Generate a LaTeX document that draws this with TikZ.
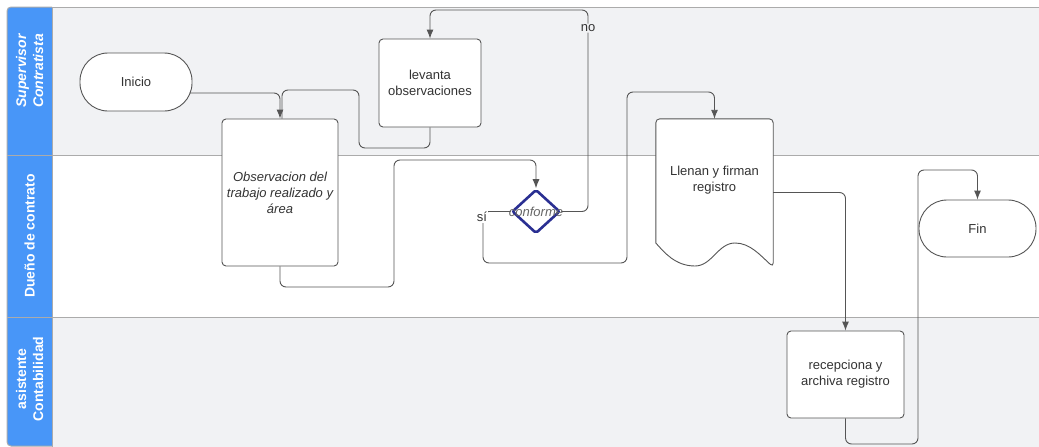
\documentclass[tikz,border=0pt]{standalone}
\usepackage{fontspec}
\setmainfont{Liberation Sans}
\usetikzlibrary{arrows.meta,shapes.geometric}
\definecolor{hdrblue}{HTML}{4896F8}
\definecolor{lanegray}{HTML}{F1F2F4}
\definecolor{framegray}{HTML}{ABABAB}
\definecolor{nodeborder}{HTML}{555555}
\definecolor{txt}{HTML}{333333}
\definecolor{navy}{HTML}{2A2F92}
\tikzset{
  box/.style={draw=nodeborder, line width=0.9pt, fill=white, rounded corners=4pt,
    align=center, text=txt, font=\fontsize{13}{16}\selectfont, inner sep=2pt},
  term/.style={draw=nodeborder, line width=0.9pt, fill=white, rounded corners=28pt,
    align=center, text=txt, font=\fontsize{13}{16}\selectfont},
  conn/.style={draw=nodeborder, line width=0.9pt, rounded corners=6pt},
  arr/.style={conn, -{Latex[length=9pt,width=7pt]}},
  lbl/.style={text=txt, font=\fontsize{13}{16}\selectfont, inner sep=1pt},
  hdrtext/.style={text=white, font=\fontsize{14}{17}\selectfont\bfseries, align=center, rotate=90}
}
\begin{document}
\begin{tikzpicture}[x=1pt,y=-1pt]
\useasboundingbox (0,0) rectangle (1039,447);
% lanes
\fill[lanegray] (52,7) rectangle (1039,155);
\fill[white] (52,155) rectangle (1039,317);
\fill[lanegray] (52,317) rectangle (1039,447);
\draw[framegray, line width=1pt] (52,7) -- (1039,7);
\draw[framegray, line width=1pt] (7,155) -- (1039,155);
\draw[framegray, line width=1pt] (7,317) -- (1039,317);
% header column
\draw[framegray, line width=1pt, fill=hdrblue, rounded corners=4pt] (52,7) -- (7,7) -- (7,446) -- (52,446);
\draw[framegray, line width=1pt] (52,7) -- (52,447);
\draw[framegray, line width=1pt] (7,155) -- (52,155);
\draw[framegray, line width=1pt] (7,317) -- (52,317);
\node[hdrtext, font=\fontsize{14}{17}\selectfont\bfseries\itshape] (h1) at (29.5,71) {Supervisor\\Contratista};
\node[hdrtext] (h2) at (29.5,236) {Dueño de contrato};
\node[hdrtext] (h3) at (29.5,379) {asistente\\Contabilidad};

% nodes
\node[term, minimum width=112pt, minimum height=58pt] (inicio) at (136,82) {Inicio};
\node[box, minimum width=102pt, minimum height=88pt] (lev) at (430,83) {levanta\\observaciones};
\node[box, minimum width=116pt, minimum height=147pt, font=\fontsize{13}{16}\selectfont\itshape] (obs) at (280,192.5) {Observacion del\\trabajo realizado y\\área};
\node[diamond, draw=navy, line width=2.6pt, rounded corners=2pt, fill=white, inner sep=0pt,
  minimum width=48pt, minimum height=44pt,
  label={[text=black!60, font=\fontsize{13}{16}\selectfont\itshape]center:conforme}] (conf) at (536,211.5) {};
\node[minimum width=117pt, minimum height=147pt, inner sep=0pt] (llen) at (714.5,192.5) {};
\draw[draw=nodeborder, line width=0.9pt, fill=white, rounded corners=4pt]
  (llen.west |- 0,243) -- (llen.north west) -- (llen.north east) -- (llen.east |- 0,267) [rounded corners=0pt]
  .. controls (760,255) and (750,243) .. (735,243)
  .. controls (718,243) and (712,266) .. (695,266)
  .. controls (675,266) and (664,252) .. (llen.west |- 0,243) -- cycle;
\node[align=center, text=txt, font=\fontsize{13}{16}\selectfont] (llentext) at (714.5,180) {Llenan y firman\\registro};
\node[term, minimum width=117pt, minimum height=57pt] (fin) at (977.5,228.5) {Fin};
\node[box, minimum width=117pt, minimum height=87pt] (rec) at (845.5,374.5) {recepciona y\\archiva registro};

% connectors
\draw[arr] ([shift={(-3,11)}]inicio.east) -| (obs.north);
\draw[conn] (lev.south) |- (359,148) |- (282,90) -- ([xshift=2pt]obs.north);
\draw[arr] (obs.south) |- (394,287) |- (536,160) -- (conf.north);
\draw[arr] (conf.east) -- (588,211.5) -- node[pos=0.91, lbl, fill=lanegray]{no} (588,10) -| (lev.north);
\draw[arr] (conf.west) -- (483,211.5) -- (483,263) -- (627,263) -- (627,92) -| (llen.north);
\node[lbl, fill=white, font=\fontsize{13}{16}\selectfont] (si) at (482,217) {sí};
\draw[arr] (llen.east) -| (rec.north);
\draw[arr] (rec.south) |- (918,444) |- (977.5,170) -- (fin.north);
\end{tikzpicture}
\end{document}
